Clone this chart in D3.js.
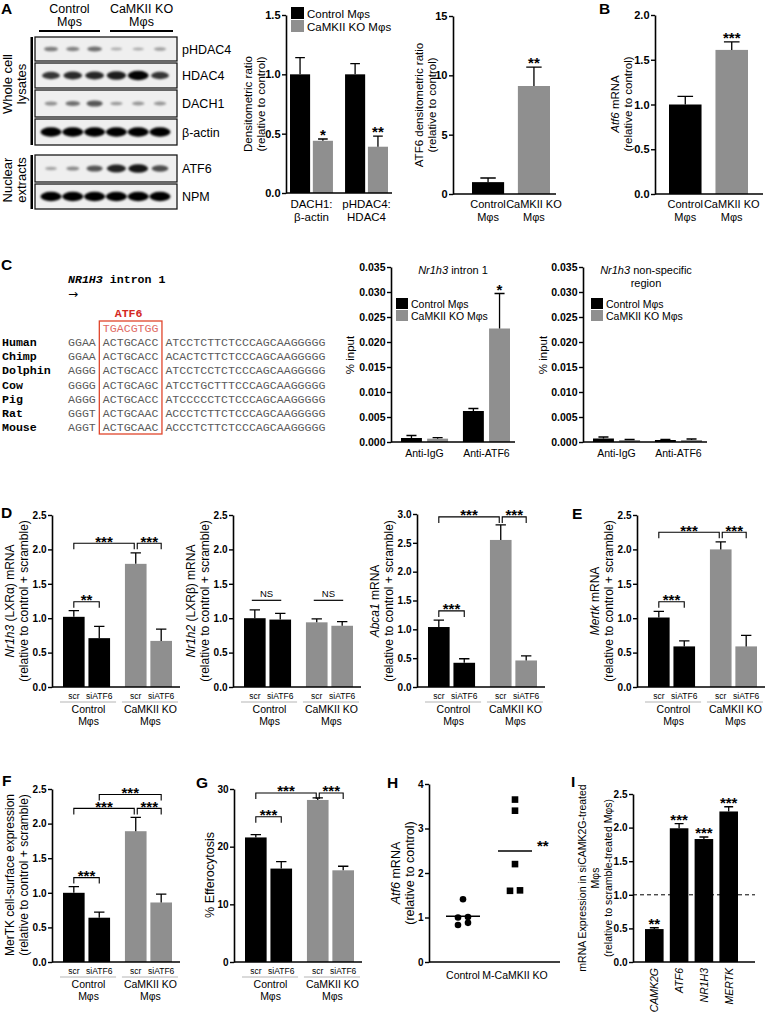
<!DOCTYPE html>
<html><head><meta charset="utf-8">
<script src="https://cdn.jsdelivr.net/npm/d3@7"></script>
<style>body{margin:0;background:#fff}svg{display:block}</style>
</head><body><script>
// ---------------- DATA ----------------
// Panel A – western blot band intensities (0–1), lanes: 3 control, 3 CaMKII KO
const blotLanes = ["C1","C2","C3","K1","K2","K3"];
const blotRowNames = ["pHDAC4","HDAC4","DACH1","β-actin","ATF6","NPM"];
const bandPHDAC4 = [0.35,0.32,0.42,0.10,0.12,0.18];
const bandHDAC4  = [0.72,0.78,0.80,0.85,0.98,0.72];
const bandDACH1  = [0.25,0.42,0.55,0.20,0.22,0.22];
const bandActin  = [1,1,1,1,1,1];
const bandATF6   = [0.15,0.28,0.55,0.82,0.88,0.60];
const bandNPM    = [1,1,1,1,1,1];
const blotGroups = ["Control|Mφs","CaMKII KO|Mφs"];

// Panel A – densitometry
const genotypes = ["Control Mφs","CaMKII KO Mφs"];
const densCats = ["DACH1:|β-actin","pHDAC4:|HDAC4"];
const densMeans = [1.00,0.44, 1.00,0.39];
const densErrs  = [0.14,0.015, 0.09,0.09];
const densStars = ["","*","","**"];
const densTicks = [0,0.5,1.0,1.5];

const atf6DensCats = ["Control|Mφs","CaMKII KO|Mφs"];
const atf6DensMeans = [1.0,9.1];
const atf6DensErrs = [0.35,1.6];
const atf6DensStars = ["","**"];
const atf6DensTicks = [0,5,10,15];

// Panel B
const atf6mCats = ["Control|Mφs","CaMKII KO|Mφs"];
const atf6mMeans = [1.00,1.61];
const atf6mErrs = [0.09,0.09];
const atf6mStars = ["","***"];
const atf6mTicks = [0,0.5,1.0,1.5,2.0];

// Panel C – alignment
const seqSpecies = ["Human","Chimp","Dolphin","Cow","Pig","Rat","Mouse"];
const seqLeft  = ["GGAA","GGAA","AGGG","GGGG","AGGG","GGGT","AGGT"];
const seqSite  = ["ACTGCACC","ACTGCACC","ACTGCACC","ACTGCAGC","ACTGCACC","ACTGCAAC","ACTGCAAC"];
const seqRight = ["ATCCTCTTCTCCCAGCAAGGGGG","ACACTCTTCTCCCAGCAAGGGGG","ATCCTCCTCTCCCAGCAAGGGGG",
                  "ATCCTGCTTTCCCAGCAAGGGGG","ATCCCCCTCTCCCAGCAAGGGGG","ACCCTCTTCTCCCAGCAAGGGGG",
                  "ACCCTCTTCTCCCAGCAAGGGGG"];
const atf6Consensus = "TGACGTGG";

// Panel C – ChIP
const chipCats = ["Anti-IgG","Anti-ATF6"];
const chipIntronMeans = [0.0008,0.00067, 0.0062,0.0227];
const chipIntronErrs  = [0.0005,0.0002, 0.0005,0.0070];
const chipIntronStars = ["","","","*"];
const chipNonspMeans = [0.0007,0.0004, 0.0004,0.0004];
const chipNonspErrs  = [0.0003,0.0001, 0.0001,0.0002];
const chipTicks = [0,0.005,0.010,0.015,0.020,0.025,0.030,0.035];

// Panels D–G
const sirnaGroups = ["Control Mφs","CaMKII KO Mφs"];
const sirnaTreat = ["scr","siATF6"];
const nr1h3Means = [1.02,0.71,1.79,0.67]; const nr1h3Errs = [0.09,0.17,0.16,0.17];
const nr1h2Means = [1.00,0.98,0.94,0.89]; const nr1h2Errs = [0.12,0.09,0.05,0.06];
const abca1Means = [1.04,0.42,2.55,0.46]; const abca1Errs = [0.12,0.07,0.26,0.08];
const mertkMeans = [1.01,0.59,2.00,0.59]; const mertkErrs = [0.09,0.08,0.11,0.16];
const surfMeans  = [1.00,0.64,1.89,0.86]; const surfErrs  = [0.09,0.08,0.20,0.12];
const efferoMeans= [21.6,16.2,28.1,15.9]; const efferoErrs= [0.5,1.2,0.35,0.7];
const ticks25 = [0,0.5,1.0,1.5,2.0,2.5];
const ticks30 = [0,0.5,1.0,1.5,2.0,2.5,3.0];
const efferoTicks = [0,10,20,30];
// significance comparisons: indices of conditions, bracket height in data units
const nr1h3Sig = [{a:0,b:2,y:2.09,t:"***",bs:-1.5},{a:2,b:3,y:2.09,t:"***",as:1.5},{a:0,b:1,y:1.24,t:"**"}];
const nr1h2Sig = [{a:0,b:1,y:1.26,t:"NS",ns:true},{a:2,b:3,y:1.26,t:"NS",ns:true}];
const abca1Sig = [{a:0,b:2,y:2.95,t:"***",bs:-1.5},{a:2,b:3,y:2.95,t:"***",as:1.5},{a:0,b:1,y:1.32,t:"***"}];
const mertkSig = [{a:0,b:2,y:2.25,t:"***",bs:-1.5},{a:2,b:3,y:2.25,t:"***",as:1.5},{a:0,b:1,y:1.24,t:"***"}];
const surfSig  = [{a:1,b:3,y:2.42,t:"***"},{a:0,b:2,y:2.22,t:"***",bs:-1.5},{a:2,b:3,y:2.22,t:"***",as:1.5},{a:0,b:1,y:1.22,t:"***"}];
const efferoSig= [{a:0,b:2,y:29.3,t:"***",bs:-1.5},{a:2,b:3,y:29.3,t:"***",as:1.5},{a:0,b:1,y:25.2,t:"***"}];

// Panel H
const hGroups = ["Control","M-CaMKII KO"];
const hControl = [1.41,1.01,1.00,0.88,0.83];
const hKO = [3.65,3.40,2.20,1.61,1.60];
const hTicks = [0,1,2,3,4];

// Panel I
const iGenes = ["CAMK2G","ATF6","NR1H3","MERTK"];
const iMeans = [0.49,1.99,1.83,2.24];
const iErrs  = [0.02,0.07,0.03,0.07];
const iStars = ["**","***","***","***"];

// ---------------- DRAWING ----------------
const SANS = "'Liberation Sans', Arial, Helvetica, sans-serif";
const MONO = "'Liberation Mono', 'Courier New', monospace";
const GRAY = "#8f8f8f";
const svg = d3.select("body").append("svg").attr("width",767).attr("height",1030)
  .attr("font-family",SANS).style("background","#fff");

function parseSegs(str){ return str.split("_").map((s,i)=>[s,i%2===1]).filter(s=>s[0].length); }
function addText(parent,x,y,str,fs,opts={}){
  const t=parent.append("text").attr("x",x).attr("y",y).attr("font-size",fs)
    .attr("text-anchor",opts.anchor||"start").attr("fill",opts.fill||"#000");
  if(opts.bold) t.attr("font-weight","bold");
  if(opts.family) t.attr("font-family",opts.family);
  parseSegs(str).forEach(s=>t.append("tspan").attr("font-style",s[1]?"italic":null).text(s[0]));
  return t;
}
function letter(t,x,y){ addText(svg,x,y,t,15.5,{bold:true}); }
function yLabel(cxs,cy,lines,fs){
  lines.forEach((ln,i)=>{
    const t=svg.append("text").attr("transform",`translate(${cxs[i]+0.35*fs},${cy}) rotate(-90)`)
      .attr("text-anchor","middle").attr("font-size",fs);
    parseSegs(ln).forEach(s=>t.append("tspan").attr("font-style",s[1]?"italic":null).text(s[0]));
  });
}
function yAxis(g,y,x,ticks,fmt,fs){
  const ax=g.append("g").attr("transform",`translate(${x},0)`)
    .call(d3.axisLeft(y).tickValues(ticks).tickFormat(fmt).tickSize(4).tickSizeOuter(0));
  ax.select(".domain").attr("stroke","#000").attr("stroke-width",1.6);
  ax.selectAll(".tick line").attr("stroke","#000").attr("stroke-width",1.4);
  ax.selectAll(".tick text").attr("font-family",SANS).attr("font-size",fs).attr("font-weight","bold")
    .attr("fill","#000").attr("x",-5.5);
  return ax;
}
const STARFS=15;
function starText(g,x,bottomY,t){
  addText(g,x,bottomY+0.43*STARFS,t,STARFS,{bold:true,anchor:"middle"});
}
function panelBars(o){
  const g=svg.append("g");
  const y=d3.scaleLinear().domain([0,o.yMax]).range([o.y0,o.y1]);
  const x0=d3.scaleBand().domain(o.groups).range(o.range).paddingInner(o.gPad);
  const x1=d3.scaleBand().domain(o.subs).range([0,x0.bandwidth()]).paddingInner(o.sPad||0);
  const ns=o.subs.length;
  const rows=o.means.map((m,i)=>{
    const gi=Math.floor(i/ns), si=i%ns, x=x0(o.groups[gi])+x1(o.subs[si]);
    return {gi,si,m,e:o.errs[i],star:o.stars?o.stars[i]:"",x,w:x1.bandwidth(),cx:x+x1.bandwidth()/2};
  });
  g.selectAll("rect.bar").data(rows).join("rect").attr("class","bar")
    .attr("x",r=>r.x).attr("y",r=>y(r.m)).attr("width",r=>r.w).attr("height",r=>y(0)-y(r.m))
    .attr("fill",r=>o.color(r));
  g.selectAll("path.err").data(rows).join("path").attr("class","err")
    .attr("d",r=>{const c=Math.max(4,r.w*0.24), t=y(r.m+r.e);
      return `M${r.cx},${y(r.m)}V${t}M${r.cx-c},${t}H${r.cx+c}`;})
    .attr("stroke","#000").attr("stroke-width",1.3).attr("fill","none");
  yAxis(g,y,o.left,o.ticks,o.fmt,o.tickFs);
  g.append("line").attr("x1",o.left).attr("x2",o.right).attr("y1",y(0)).attr("y2",y(0))
    .attr("stroke","#000").attr("stroke-width",1.6);
  rows.forEach(r=>{ if(r.star) starText(g,r.cx,y(r.m+r.e)-5,r.star); });
  return {g,y,x0,x1,rows,o};
}
function brackets(p,list){
  list.forEach(b=>{
    const xa=p.rows[b.a].cx+(b.as||0), xb=p.rows[b.b].cx+(b.bs||0), yy=p.y(b.y);
    if(b.ns){
      p.g.append("line").attr("x1",xa-3).attr("x2",xb+1).attr("y1",yy).attr("y2",yy).attr("stroke","#000").attr("stroke-width",1.2);
      addText(p.g,(xa+xb)/2-1,yy-3,b.t,9.5,{anchor:"middle"});
    } else {
      p.g.append("path").attr("d",`M${xa},${yy+6}V${yy}H${xb}V${yy+6}`).attr("fill","none")
        .attr("stroke","#000").attr("stroke-width",1.1);
      starText(p.g,(xa+xb)/2,yy-3,b.t);
    }
  });
}
function subLabels(p){
  const y0=p.y(0);
  p.rows.forEach(r=>addText(p.g,r.cx,y0+12,p.o.subs[r.si],8.5,{anchor:"middle"}));
  p.o.groups.forEach(gn=>{
    const gx=p.x0(gn), bw=p.x0.bandwidth();
    p.g.append("line").attr("x1",gx-3).attr("x2",gx+bw+6).attr("y1",y0+15).attr("y2",y0+15)
      .attr("stroke","#b5b5b5").attr("stroke-width",1);
    const lines=[gn.replace(" Mφs",""),"Mφs"];
    lines.forEach((l,i)=>addText(p.g,gx+bw/2+2,y0+26+12*i,l,10.5,{anchor:"middle"}));
  });
}
function groupLabels(p,fs,dy,lh){
  const y0=p.y(0);
  p.o.groups.forEach(gn=>{
    const cx=p.x0(gn)+p.x0.bandwidth()/2;
    gn.split("|").forEach((l,i)=>addText(p.g,cx,y0+dy+lh*i,l,fs,{anchor:"middle"}));
  });
}
function legend(x,y,fs,sq,gap){
  genotypes.forEach((gname,i)=>{
    svg.append("rect").attr("x",x).attr("y",y+i*gap).attr("width",sq).attr("height",sq-1)
      .attr("fill",i?GRAY:"#000");
    addText(svg,x+sq+3,y+i*gap+sq-2,gname,fs);
  });
}
const f1=d3.format(".1f"), f3=d3.format(".3f"), f0=d3.format("d");

// ---------- Panel A: blot ----------
letter("A",1,14);
const defs=svg.append("defs");
defs.append("filter").attr("id","blur").attr("x","-50%").attr("y","-80%").attr("width","200%").attr("height","260%")
  .append("feGaussianBlur").attr("stdDeviation",1.3);
const laneX=d3.scalePoint().domain(blotLanes).range([51,160]);
const blotBands=[bandPHDAC4,bandHDAC4,bandDACH1,bandActin,bandATF6,bandNPM];
const blotBoxes=[[37,61],[63,88],[90,117],[119,145],[155,182],[184,209]];
blotRowNames.forEach((nm,ri)=>{
  const [t,b]=blotBoxes[ri], cy=(t+b)/2;
  svg.append("rect").attr("x",35).attr("y",t).attr("width",142).attr("height",b-t)
    .attr("fill","#efefef").attr("stroke","#1a1a1a").attr("stroke-width",1.3);
  svg.append("g").attr("filter","url(#blur)").selectAll("ellipse").data(blotBands[ri]).join("ellipse")
    .attr("cx",(v,i)=>laneX(blotLanes[i])).attr("cy",cy)
    .attr("rx",v=>5+5.5*v).attr("ry",v=>1.1+3.6*v)
    .attr("fill","#000").attr("fill-opacity",v=>0.2+0.8*v);
  addText(svg,182,cy+4.5,nm,12.5);
});
// header
[[39,100],[110,173]].forEach((r,i)=>{
  svg.append("line").attr("x1",r[0]).attr("x2",r[1]).attr("y1",31).attr("y2",31).attr("stroke","#000").attr("stroke-width",2);
  blotGroups[i].split("|").forEach((l,j)=>addText(svg,(r[0]+r[1])/2,13+12.5*j,l,12.5,{anchor:"middle"}));
});
svg.append("rect").attr("x",30.5).attr("y",37).attr("width",2.5).attr("height",108).attr("fill","#000");
svg.append("rect").attr("x",30.5).attr("y",155).attr("width",2.5).attr("height",54).attr("fill","#000");
yLabel([7,21],84,["Whole cell","lysates"],13);
yLabel([7,21],180,["Nuclear","extracts"],13);

// ---------- Panel A: densitometry ----------
const pA1=panelBars({left:286,right:392,y0:193,y1:15,yMax:1.5,ticks:densTicks,fmt:f1,tickFs:11,
  groups:densCats,subs:genotypes,range:[290,388],gPad:0.22,sPad:0.12,
  means:densMeans,errs:densErrs,stars:densStars,color:r=>r.si?GRAY:"#000"});
groupLabels(pA1,11.5,15,12.5);
legend(291,7,11.5,13,13);
yLabel([248,261],104,["Densitometric ratio","(relative to control)"],11.5);

const pA2=panelBars({left:453,right:556,y0:194,y1:16,yMax:15,ticks:atf6DensTicks,fmt:f0,tickFs:11,
  groups:atf6DensCats,subs:["v"],range:[472,550],gPad:0.3,
  means:atf6DensMeans,errs:atf6DensErrs,stars:atf6DensStars,color:r=>r.gi?GRAY:"#000"});
groupLabels(pA2,11,14,12.5);
yLabel([419,432],105,["ATF6 densitometric ratio","(relative to control)"],11.5);

// ---------- Panel B ----------
letter("B",599,14);
const pB=panelBars({left:655,right:763,y0:194,y1:15,yMax:2,ticks:atf6mTicks,fmt:f1,tickFs:11,
  groups:atf6mCats,subs:["v"],range:[669,748],gPad:0.3,
  means:atf6mMeans,errs:atf6mErrs,stars:atf6mStars,color:r=>r.gi?GRAY:"#000"});
groupLabels(pB,11,14,12.5);
yLabel([615,628],104,["_Atf6_ mRNA","(relative to control)"],11.5);

// ---------- Panel C: alignment ----------
letter("C",1,270);
const CW=6.96, SX=68;
const ct=addText(svg,SX,283,"",11.6,{bold:true,family:MONO});
ct.append("tspan").attr("font-style","italic").text("NR1H3");
ct.append("tspan").text(" intron 1");
addText(svg,SX,298,"→",12,{family:"'DejaVu Sans', sans-serif"});
const rowY=d3.scalePoint().domain(seqSpecies).range([346,431]);
const boxL=SX+4.5*CW, boxR=SX+13.5*CW;
addText(svg,(boxL+boxR)/2-2,317,"ATF6",11.6,{bold:true,family:MONO,anchor:"middle",fill:"#d42a1f"});
addText(svg,SX+5*CW,332,atf6Consensus,11.6,{family:MONO,fill:"#e06a64"});
seqSpecies.forEach((sp,i)=>{
  addText(svg,2,rowY(sp),sp,11.6,{bold:true,family:MONO});
  addText(svg,SX,rowY(sp),seqLeft[i]+" "+seqSite[i]+" "+seqRight[i],11.6,{family:MONO,fill:"#5a5a5a"})
    .attr("xml:space","preserve").style("white-space","pre");
});
svg.append("rect").attr("x",boxL).attr("y",321).attr("width",boxR-boxL).attr("height",113)
  .attr("fill","none").attr("stroke","#e0452c").attr("stroke-width",1.3);

// ---------- Panel C: ChIP ----------
const pC1=panelBars({left:391,right:515,y0:442,y1:267,yMax:0.035,ticks:chipTicks,fmt:f3,tickFs:10.5,
  groups:chipCats,subs:genotypes,range:[401,510],gPad:0.24,sPad:0.2,
  means:chipIntronMeans,errs:chipIntronErrs,stars:chipIntronStars,color:r=>r.si?GRAY:"#000"});
groupLabels(pC1,10.5,15,12);
legend(396,298,10.5,12,12);
yLabel([350],355,["% input"],11.5);
addText(svg,453,274,"_Nr1h3_ intron 1",11,{anchor:"middle"});

const pC2=panelBars({left:583,right:707,y0:442,y1:267,yMax:0.035,ticks:chipTicks,fmt:f3,tickFs:10.5,
  groups:chipCats,subs:genotypes,range:[593,702],gPad:0.24,sPad:0.2,
  means:chipNonspMeans,errs:chipNonspErrs,color:r=>r.si?GRAY:"#000"});
groupLabels(pC2,10.5,15,12);
legend(591,298,10.5,12,12);
yLabel([543],355,["% input"],11.5);
addText(svg,646,274,"_Nr1h3_ non-specific",11,{anchor:"middle"});
addText(svg,646,287,"region",11,{anchor:"middle"});

// ---------- Panels D, E ----------
const colGeno=r=>r.gi?GRAY:"#000";
function sirnaPanel(left,y0,y1,yMax,ticks,fmt,means,errs,sig){
  const p=panelBars({left,right:left+128,y0,y1,yMax,ticks,fmt,tickFs:10,
    groups:sirnaGroups,subs:sirnaTreat,range:[left+11,left+120],gPad:0.24,sPad:0.15,
    means,errs,color:colGeno});
  brackets(p,sig); subLabels(p); return p;
}
letter("D",1,518);
sirnaPanel(52,687,515,2.5,ticks25,f1,nr1h3Means,nr1h3Errs,nr1h3Sig);
yLabel([10,24],601,["_Nr1h3_ (LXRα) mRNA","(relative to control + scramble)"],12);
sirnaPanel(233,687,515,2.5,ticks25,f1,nr1h2Means,nr1h2Errs,nr1h2Sig);
yLabel([191,205],601,["_Nr1h2_ (LXRβ) mRNA","(relative to control + scramble)"],12);
sirnaPanel(417,687,514,3.0,ticks30,f1,abca1Means,abca1Errs,abca1Sig);
yLabel([375,389],601,["_Abca1_ mRNA","(relative to control + scramble)"],12);
letter("E",572,519);
sirnaPanel(637,687,515,2.5,ticks25,f1,mertkMeans,mertkErrs,mertkSig);
yLabel([595,609],601,["_Mertk_ mRNA","(relative to control + scramble)"],12);

// ---------- Panels F, G ----------
letter("F",2,786);
sirnaPanel(52,962,789,2.5,ticks25,f1,surfMeans,surfErrs,surfSig);
yLabel([10,24],875,["MerTK cell-surface expression","(relative to control + scramble)"],12);
letter("G",196,788);
sirnaPanel(234,962,789,30,efferoTicks,f0,efferoMeans,efferoErrs,efferoSig);
yLabel([210],875,["% Efferocytosis"],12.5);

// ---------- Panel H ----------
letter("H",387,788);
{
  const g=svg.append("g");
  const y=d3.scaleLinear().domain([0,4]).range([962,784]);
  const x=d3.scalePoint().domain(hGroups).range([463,515]);
  yAxis(g,y,429,hTicks,f0,10);
  g.append("line").attr("x1",429).attr("x2",560).attr("y1",962).attr("y2",962).attr("stroke","#000").attr("stroke-width",1.6);
  function jitter(vals){
    const idx=vals.map((v,i)=>i).sort((a,b)=>vals[a]-vals[b]);
    const off=new Array(vals.length).fill(0); let cl=[idx[0]];
    const flush=()=>{cl.forEach((k,j)=>off[k]=(j-(cl.length-1)/2)*10);};
    for(let j=1;j<idx.length;j++){
      if(vals[idx[j]]-vals[idx[j-1]]<0.08) cl.push(idx[j]); else {flush(); cl=[idx[j]];}
    }
    flush(); return off;
  }
  const jc=jitter(hControl), jk=jitter(hKO);
  g.selectAll("circle").data(hControl).join("circle").attr("cx",(v,i)=>x(hGroups[0])+jc[i]).attr("cy",v=>y(v)).attr("r",3.3).attr("fill","#000");
  g.selectAll("rect.pt").data(hKO).join("rect").attr("class","pt").attr("x",(v,i)=>x(hGroups[1])+jk[i]-3.3).attr("y",v=>y(v)-3.3).attr("width",6.6).attr("height",6.6).attr("fill","#000");
  [hControl,hKO].forEach((arr,i)=>{
    const m=d3.mean(arr), cx=x(hGroups[i]);
    g.append("line").attr("x1",cx-17).attr("x2",cx+17).attr("y1",y(m)).attr("y2",y(m)).attr("stroke","#000").attr("stroke-width",1.5);
    addText(g,cx,979,hGroups[i],10.5,{anchor:"middle"});
  });
  addText(g,x(hGroups[1])+22,y(d3.mean(hKO))-0.58*STARFS+9,"**",STARFS,{bold:true});
}
yLabel([396,410],873,["_Atf6_ mRNA","(relative to control)"],12.5);

// ---------- Panel I ----------
letter("I",571,787);
{
  const p=panelBars({left:633,right:755,y0:962,y1:794,yMax:2.5,ticks:ticks25,fmt:f1,tickFs:10,
    groups:iGenes,subs:["v"],range:[645,738],gPad:0.25,
    means:iMeans,errs:iErrs,stars:iStars,color:()=>"#000"});
  p.g.append("line").attr("x1",633).attr("x2",755).attr("y1",p.y(1)).attr("y2",p.y(1))
    .attr("stroke","#000").attr("stroke-width",1).attr("stroke-dasharray","4,3");
  iGenes.forEach(gn=>{
    const cx=p.x0(gn)+p.x0.bandwidth()/2;
    p.g.append("text").attr("transform",`translate(${cx+4},968) rotate(-90)`).attr("text-anchor","end")
      .attr("font-size",10.5).attr("font-style","italic").text(gn);
  });
}
yLabel([582,595,608],878,["mRNA Expression in siCAMK2G-treated","Mφs","(relative to scramble-treated Mφs)"],10.5);
</script></body></html>
